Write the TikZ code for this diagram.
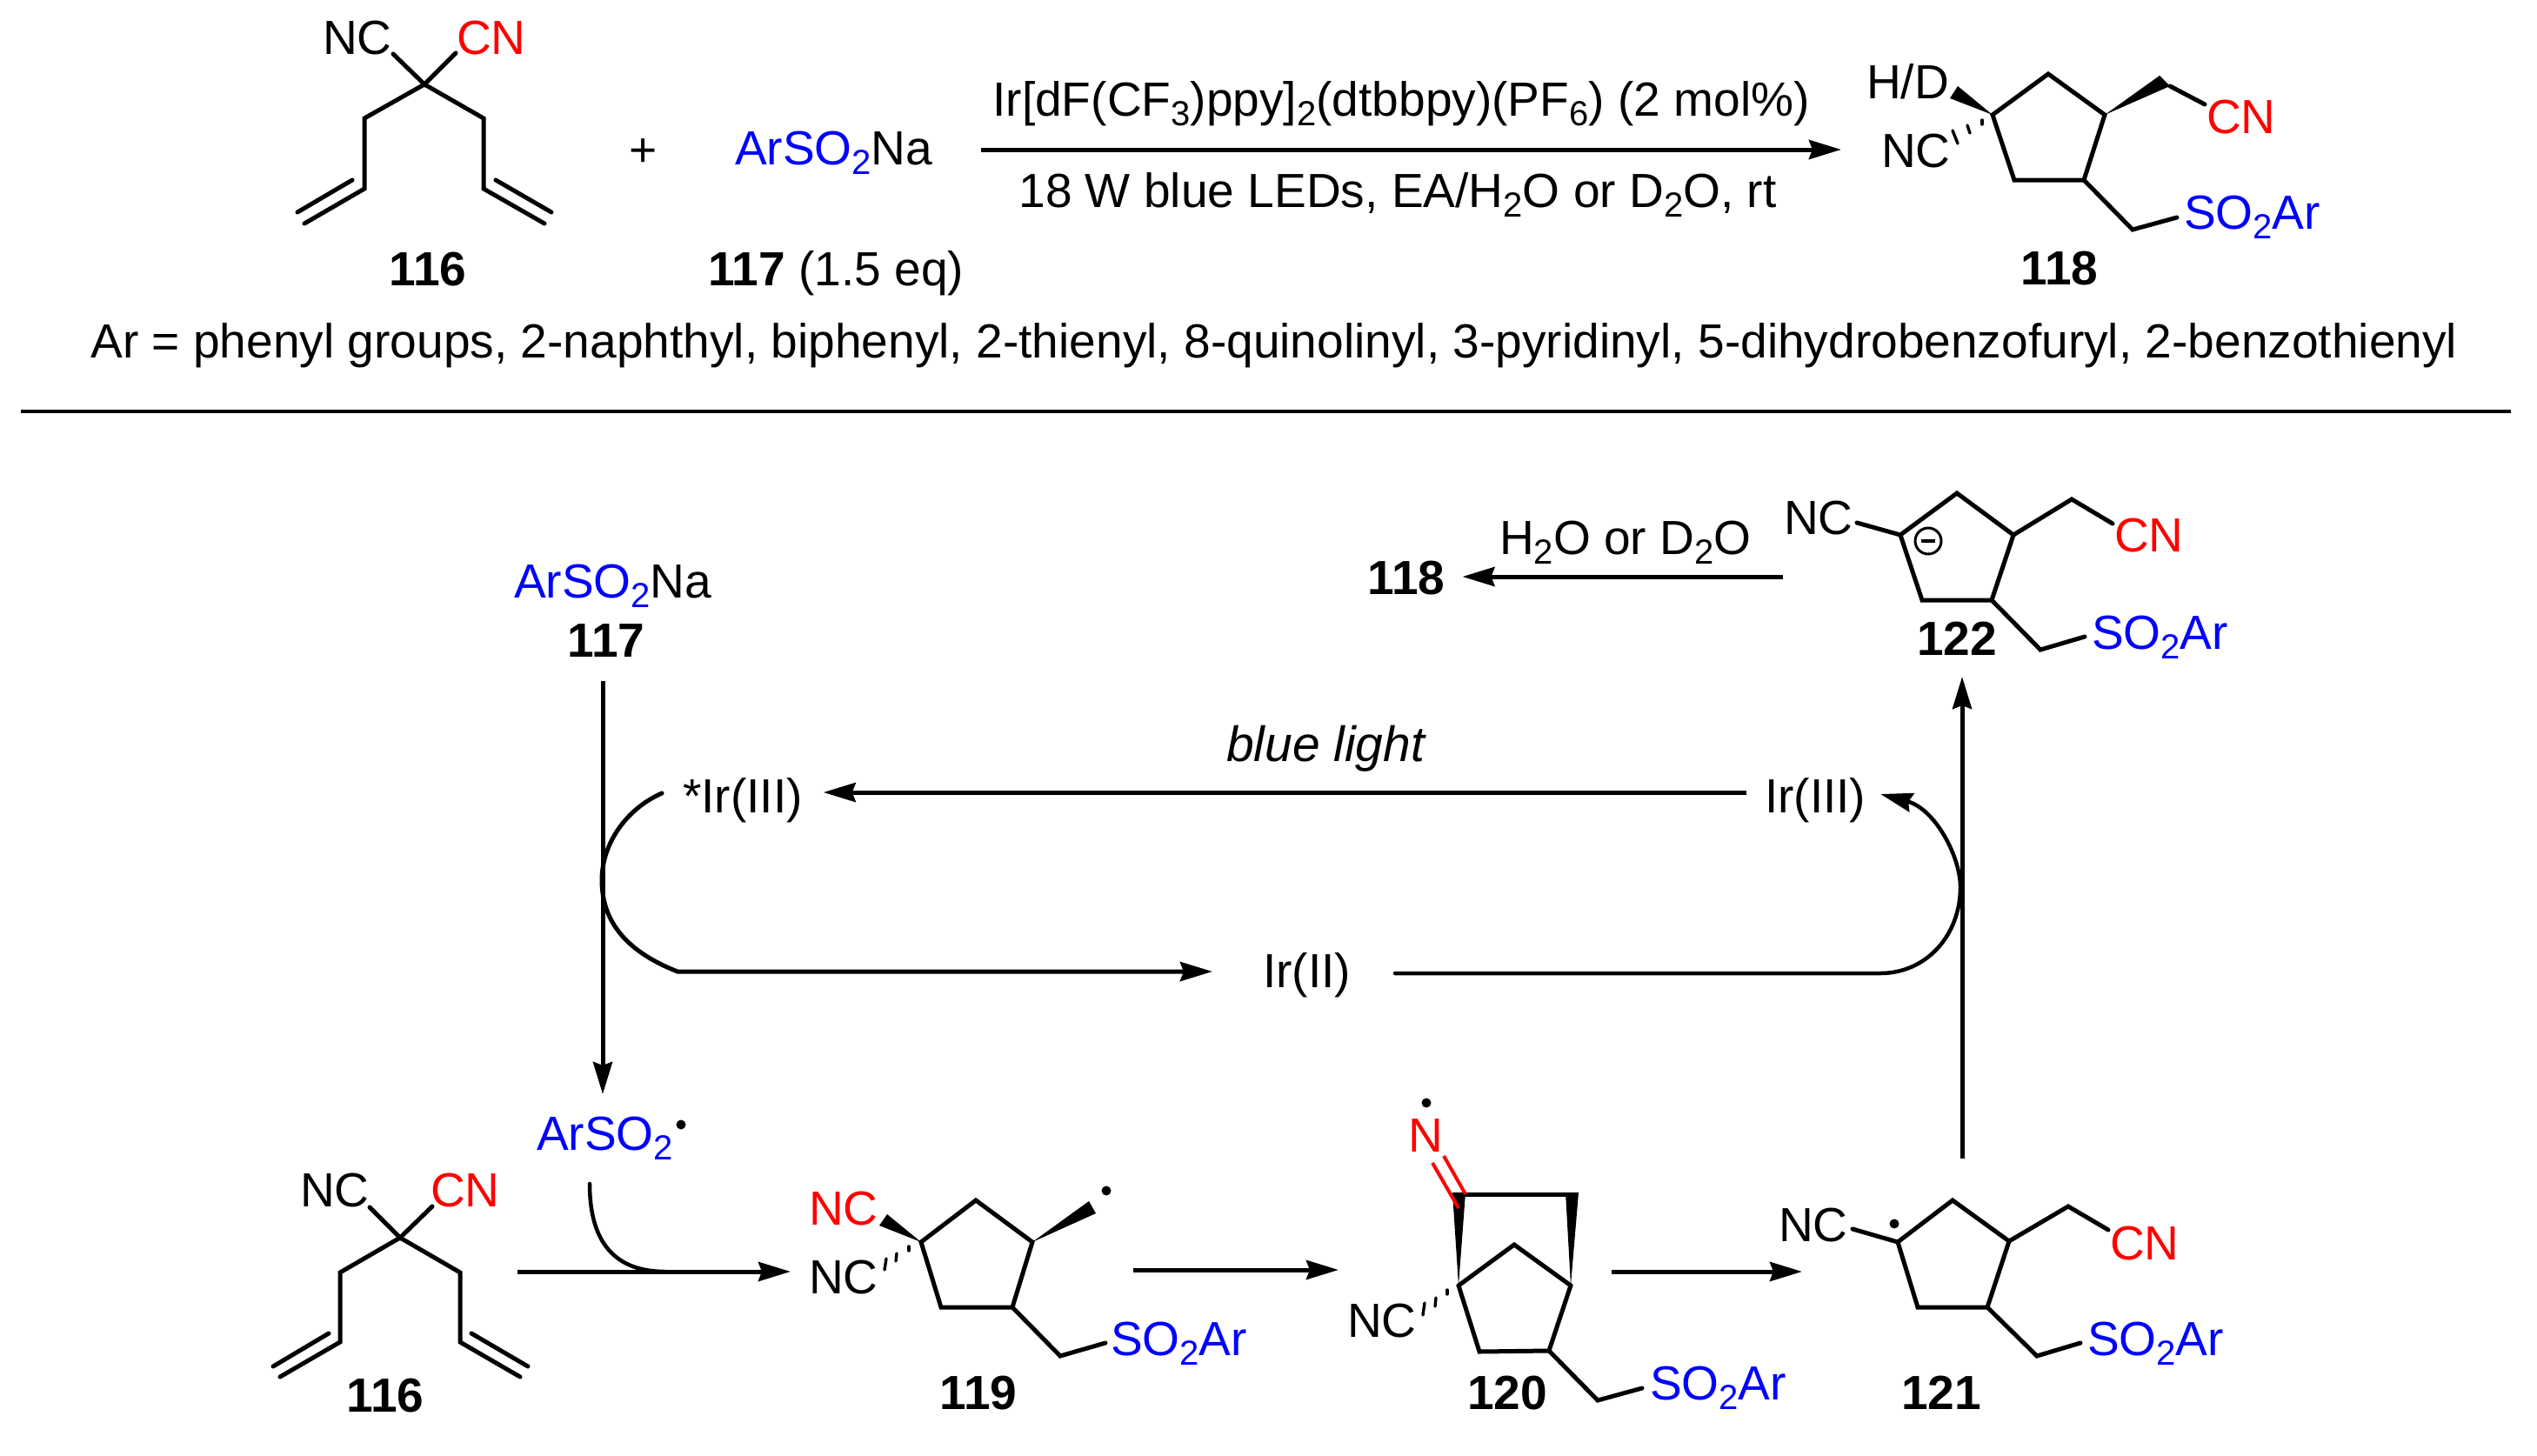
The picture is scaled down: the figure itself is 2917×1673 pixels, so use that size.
\documentclass[tikz,border=0pt]{standalone}
\usepackage{fontspec}
\setmainfont{Liberation Sans}
\usetikzlibrary{arrows.meta}
\newcommand\mainsize{\fontsize{55.1}{60}\selectfont}
\newcommand\low[1]{\raisebox{-11pt}{\fontsize{40}{42}\selectfont #1}}
\newcommand\sotwoar{SO\low{2}Ar}
\definecolor{cblue}{RGB}{0,0,255}
\definecolor{cred}{RGB}{255,0,0}
\tikzset{
  txt/.style={inner sep=0pt,outer sep=0pt,font=\mainsize,anchor=base west},
  bold/.style={txt,anchor=base,font=\mainsize\bfseries},
  bl/.style={txt,text=cblue},
  rd/.style={txt,text=cred},
  bond/.style={line width=5pt,line cap=round,line join=miter,black},
  hashb/.style={line width=3.4pt,line cap=round},
  dbl/.style={line width=4pt,cred},
  arr/.style={line width=5pt,-{Stealth[length=37pt,width=22pt,inset=4pt]}},
  thinarr/.style={line width=5pt,-{Stealth[length=37pt,width=22pt,inset=4pt]}},
  curve/.style={line width=4.5pt,line cap=round},
}
\begin{document}
\begin{tikzpicture}[x=1pt,y=-1pt]
\useasboundingbox (0,0) rectangle (2917,1673);
\fill[white] (0,0) rectangle (2917,1673);

% ---------- top scheme: 116
\coordinate (ta) at (488,97);
\coordinate (tb) at (452,62);
\coordinate (tc) at (524,61);
\coordinate (td) at (419,136);
\coordinate (te) at (556,136);
\coordinate (tf) at (419,217);
\coordinate (tg) at (556,217);
\coordinate (th) at (350,257);
\coordinate (ti) at (626,257);
\coordinate (tj) at (342,244);
\coordinate (tk) at (405,207);
\coordinate (tl) at (634,244);
\coordinate (tm) at (570,207);
\draw[bond] (tb) -- (ta) -- (tc);
\draw[bond] (th) -- (tf) -- (td) -- (ta) -- (te) -- (tg) -- (ti);
\draw[bond] (tj) -- (tk);
\draw[bond] (tl) -- (tm);
\node[txt] (tNC) at (371,62) {NC};
\node[rd] (tCN) at (525,62) {CN};
\node[bold] (t116) at (492,328) {116};
\node[txt] (tplus) at (723,191) {+};
\node[txt] (t117) at (845,189) {\textcolor{cblue}{ArSO\low{2}}Na};
\node[txt] (t117l) at (814,328) {\textbf{117} (1.5 eq)};

% reagents
\node[txt,anchor=base] (cond1) at (1611,133) {Ir[dF(CF\low{3})ppy]\low{2}(dtbbpy)(PF\low{6}) (2 mol\%)};
\node[txt,anchor=base] (cond2) at (1607,238) {18 W blue LEDs, EA/H\low{2}O or D\low{2}O, rt};

% 118
\coordinate (ua) at (2291,132);
\coordinate (ub) at (2355,85);
\coordinate (uc) at (2420,132);
\coordinate (ud) at (2396,207);
\coordinate (ue) at (2316,207);
\coordinate (uf) at (2495,99);
\coordinate (ug) at (2535,120);
\coordinate (uh) at (2452,264);
\coordinate (ui) at (2503,250);
\draw[bond] (ua) -- (ub) -- (uc) -- (ud) -- (ue) -- cycle;
\draw[bond] (ud) -- (uh) -- (ui);
\draw[bond] (uf) -- (ug);
\fill (ua) -- (2242,113) -- (2251,99) -- cycle;
\fill (uc) -- (2483,87) -- (uf) -- cycle;
\draw[hashb] (2279,138) -- (2279,143);
\draw[hashb] (2262,144) -- (2265,153);
\draw[hashb] (2245,150) -- (2251,165);
\node[txt] (uHD) at (2146,113) {H/D};
\node[txt] (uNC) at (2163,192) {NC};
\node[rd] (uCN) at (2537,153) {CN};
\node[bl] (uSO) at (2511,263) {\sotwoar};
\node[bold] (u118) at (2368,327) {118};

\draw[arr] ([shift={(56,-17)}]t117.base east) -- ([shift={(-46,-20)}]uNC.base west);

\node[txt,anchor=base] (arlist) at (1465,411) {Ar = phenyl groups, 2-naphthyl, biphenyl, 2-thienyl, 8-quinolinyl, 3-pyridinyl, 5-dihydrobenzofuryl, 2-benzothienyl};

% separator
\coordinate (sepL) at (24,473);
\coordinate (sepR) at (2887,473);
\draw[line width=4.5pt] (sepL) -- (sepR);

% ---------- cycle
\node[txt] (c117) at (591,687) {\textcolor{cblue}{ArSO\low{2}}Na};
\node[bold] (l117) at (697,755) {117};
\node[txt] (sIr) at (785,934) {*Ir(III)};
\node[txt] (Ir3) at (2029,934) {Ir(III)};
\node[txt] (Ir2) at (1452,1135) {Ir(II)};
\node[txt,font=\fontsize{57}{60}\selectfont\itshape] (blue) at (1410,875) {blue light};
\node[txt] (water) at (1724,637) {H\low{2}O or D\low{2}O};
\node[bold] (l118) at (1617,683) {118};

\draw[arr] ([shift={(-21,-23)}]Ir3.base west) -- ([shift={(24,-23)}]sIr.base east);
\draw[thinarr] ([shift={(-4,28)}]l117.base) -- (693,1258) coordinate (arsTop);
\draw[curve,arr,line cap=round]
  ([shift={(-24,-22)}]sIr.base west) .. controls (720,930) and (692,970) .. (692,1012)
  .. controls (692,1055) and (715,1092) .. (779,1117) -- ([shift={(-58,-18)}]Ir2.base west);
\draw[curve,line width=4.5pt,-{Stealth[length=37pt,width=22pt,inset=4pt]}]
  ([shift={(51,-16)}]Ir2.base east) -- (2162,1119)
  .. controls (2215,1119) and (2254,1075) .. (2254,1020)
  .. controls (2254,985) and (2225,930) .. ([shift={(17,-21)}]Ir3.base east);
\draw[thinarr] ([shift={(24,-288)}]2232,1620) coordinate (up121) -- (2256,778);

\draw[arr] ([shift={(-1,49)}]2051,614) coordinate (out122) -- ([shift={(20,-20)}]l118.base east);

% 122
\coordinate (va) at (2185,615);
\coordinate (vb) at (2250,567);
\coordinate (vc) at (2315,615);
\coordinate (vd) at (2290,690);
\coordinate (ve) at (2210,690);
\coordinate (vf) at (2135,601);
\coordinate (vg) at (2382,574);
\coordinate (vh) at (2429,602);
\coordinate (vi) at (2346,747);
\coordinate (vj) at (2397,732);
\draw[bond] (va) -- (vb) -- (vc) -- (vd) -- (ve) -- cycle;
\draw[bond] (vf) -- (va);
\draw[bond] (vc) -- (vg) -- (vh);
\draw[bond] (vd) -- (vi) -- (vj);
\node[txt] (vNC) at (2051,614) {NC};
\node[rd] (vCN) at (2431,634) {CN};
\node[bl] (vSO) at (2405,746) {\sotwoar};
\node[bold] (l122) at (2250,753) {122};
\draw[line width=3pt] (2217,622) circle (15);
\draw[line width=4pt] (2209,622) -- (2225,622);

% 116 (lower)
\coordinate (wa) at (460,1423);
\coordinate (wb) at (425,1388);
\coordinate (wc) at (497,1387);
\coordinate (wd) at (391,1463);
\coordinate (we) at (529,1463);
\coordinate (wf) at (391,1543);
\coordinate (wg) at (529,1543);
\coordinate (wh) at (322,1583);
\coordinate (wi) at (598,1583);
\coordinate (wj) at (314,1571);
\coordinate (wk) at (378,1533);
\coordinate (wl) at (607,1571);
\coordinate (wm) at (542,1533);
\draw[bond] (wb) -- (wa) -- (wc);
\draw[bond] (wh) -- (wf) -- (wd) -- (wa) -- (we) -- (wg) -- (wi);
\draw[bond] (wj) -- (wk);
\draw[bond] (wl) -- (wm);
\node[txt] (wNC) at (345,1387) {NC};
\node[rd] (wCN) at (495,1387) {CN};
\node[bold] (l116) at (443,1623) {116};

\node[bl] (ars) at (617,1322) {ArSO\low{2}};
\fill (783,1293) circle (5.5);
\draw[curve] ([shift={(61,39)}]ars.base west) .. controls (678,1420) and (700,1462) .. (765,1462);

% 119
\coordinate (xa) at (1059,1428);
\coordinate (xb) at (1122,1380);
\coordinate (xc) at (1187,1428);
\coordinate (xd) at (1164,1503);
\coordinate (xe) at (1082,1503);
\coordinate (xi) at (1219,1559);
\coordinate (xj) at (1271,1544);
\draw[bond] (xa) -- (xb) -- (xc) -- (xd) -- (xe) -- cycle;
\draw[bond] (xd) -- (xi) -- (xj);
\fill (xa) -- (1011,1409) -- (1020,1396) -- cycle;
\fill (xc) -- (1252,1381) -- (1260,1395) -- cycle;
\fill (1272,1369) circle (5.5);
\draw[hashb] (1045,1433) -- (1045,1438);
\draw[hashb] (1031,1441) -- (1030,1450);
\draw[hashb] (1019,1447) -- (1017,1460);
\node[rd] (xNC1) at (930,1408) {NC};
\node[txt] (xNC2) at (930,1487) {NC};
\node[bl] (xSO) at (1277,1558) {\sotwoar};
\node[bold] (l119) at (1125,1620) {119};
\draw[arr] ([shift={(20,75)}]wCN.base east) -- ([shift={(-21,-25)}]xNC2.base west);

% 120
\coordinate (ya) at (1677,1478);
\coordinate (yb) at (1806,1478);
\coordinate (yc) at (1741,1431);
\coordinate (yd) at (1701,1554);
\coordinate (ye) at (1781,1553);
\coordinate (yf) at (1837,1610);
\coordinate (yg) at (1888,1596);
\coordinate (yt) at (1677,1373);
\coordinate (yu) at (1808,1373);
\draw[bond] (ya) -- (yc) -- (yb);
\draw[bond] (ya) -- (yd) -- (ye) -- (yb);
\draw[bond] (ye) -- (yf) -- (yg);
\draw[bond,line cap=butt] (yt) -- (yu);
\fill (ya) -- (1670,1371) -- (1685,1371) -- cycle;
\fill (yb) -- (1800,1371) -- (1815,1371) -- cycle;
\draw[dbl] (1660,1329) -- (1685,1373);
\draw[dbl] (1647,1337) -- (1677,1389);
\fill (1640,1268) circle (5.5);
\draw[hashb] (1664,1483) -- (1664,1488);
\draw[hashb] (1651,1492) -- (1650,1502);
\draw[hashb] (1638,1498) -- (1636,1512);
\node[rd] (yN) at (1619,1324) {N};
\node[txt] (yNC) at (1549,1537) {NC};
\node[bl] (ySO) at (1897,1609) {\sotwoar};
\node[bold] (l120) at (1733,1620) {120};
\draw[arr] ([shift={(26,-98)}]xSO.base west) -- ([shift={(-10,-77)}]yNC.base west);

% 121
\coordinate (za) at (2182,1428);
\coordinate (zb) at (2245,1380);
\coordinate (zc) at (2310,1427);
\coordinate (zd) at (2285,1503);
\coordinate (ze) at (2205,1503);
\coordinate (zf) at (2130,1413);
\coordinate (zg) at (2378,1387);
\coordinate (zh) at (2424,1414);
\coordinate (zi) at (2342,1559);
\coordinate (zj) at (2392,1544);
\draw[bond] (za) -- (zb) -- (zc) -- (zd) -- (ze) -- cycle;
\draw[bond] (zf) -- (za);
\draw[bond] (zc) -- (zg) -- (zh);
\draw[bond] (zd) -- (zi) -- (zj);
\fill (2178,1407) circle (5.5);
\node[txt] (zNC) at (2045,1427) {NC};
\node[rd] (zCN) at (2426,1448) {CN};
\node[bl] (zSO) at (2400,1558) {\sotwoar};
\node[bold] (l121) at (2232,1620) {121};
\draw[arr] ([shift={(-44,-147)}]ySO.base west) -- ([shift={(27,35)}]zNC.base west);
\end{tikzpicture}
\end{document}
